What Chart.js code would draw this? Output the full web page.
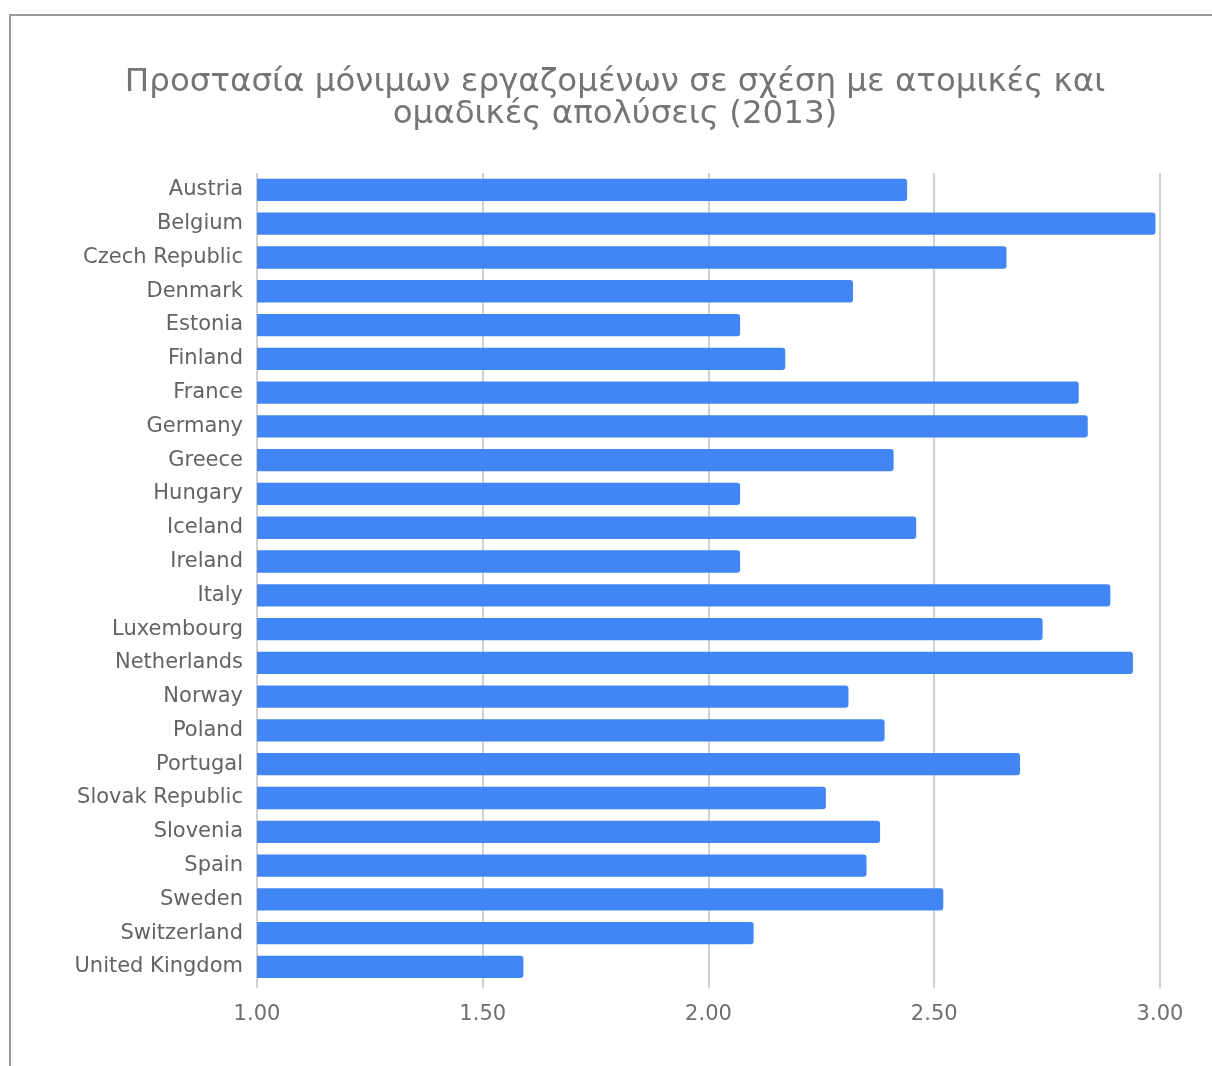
<!DOCTYPE html>
<html>
<head>
<meta charset="utf-8">
<script src="https://cdn.jsdelivr.net/npm/chart.js@4.4.1/dist/chart.umd.min.js"></script>
<style>
  html, body { margin: 0; padding: 0; background: #fff; overflow: hidden; }
  .frame {
    position: absolute; left: 9px; top: 14px; width: 1300px; height: 1200px;
    border-left: 2px solid #9a9a9a; border-top: 2px solid #9a9a9a;
  }
  #wrap { position: absolute; left: 0; top: 0; width: 1212px; height: 1066px; }
</style>
</head>
<body>
<div class="frame"></div>
<div id="wrap"><canvas id="chart"></canvas></div>
<script>
const countries = [
  'Austria', 'Belgium', 'Czech Republic', 'Denmark', 'Estonia', 'Finland',
  'France', 'Germany', 'Greece', 'Hungary', 'Iceland', 'Ireland', 'Italy',
  'Luxembourg', 'Netherlands', 'Norway', 'Poland', 'Portugal',
  'Slovak Republic', 'Slovenia', 'Spain', 'Sweden', 'Switzerland', 'United Kingdom'
];
const protection = [
  2.44, 2.99, 2.66, 2.32, 2.07, 2.17,
  2.82, 2.84, 2.41, 2.07, 2.46, 2.07, 2.89,
  2.74, 2.94, 2.31, 2.39, 2.69,
  2.26, 2.38, 2.35, 2.52, 2.10, 1.59
];
const titleLines = [
  'Προστασία μόνιμων εργαζομένων σε σχέση με ατομικές και',
  'ομαδικές απολύσεις (2013)'
];
const xMin = 1, xMax = 3, xStep = 0.5;

Chart.defaults.font.family = '"DejaVu Sans", sans-serif';

// center the title over the whole frame, not just the plot width
const wideTitle = {
  id: 'wideTitle',
  afterLayout(chart) {
    const t = chart.titleBlock;
    if (!t) return;
    t.left = 0;
    t.right = 1230;
    t.width = 1230;
  }
};

new Chart(document.getElementById('chart'), {
  type: 'bar',
  data: {
    labels: countries,
    datasets: [{
      data: protection,
      backgroundColor: '#4285f4',
      borderRadius: { topRight: 3, bottomRight: 3 },
      borderSkipped: 'start',
      barPercentage: 0.66,
      categoryPercentage: 1
    }]
  },
  options: {
    indexAxis: 'y',
    responsive: true,
    maintainAspectRatio: false,
    animation: false,
    layout: { padding: { left: 0, right: 52, top: 67, bottom: 25 } },
    plugins: {
      legend: { display: false },
      tooltip: { enabled: false },
      title: {
        display: true,
        text: titleLines,
        color: '#757575',
        font: { size: 32.5, weight: 'normal', lineHeight: 0.985 },
        padding: { top: 0, bottom: 42 }
      }
    },
    scales: {
      x: {
        min: xMin,
        max: xMax,
        ticks: {
          stepSize: xStep,
          color: '#6e6e6e',
          font: { size: 21 },
          padding: 14,
          callback: v => v.toFixed(2)
        },
        grid: { color: '#d0d0d0', lineWidth: 2, tickLength: 4 },
        border: { display: false }
      },
      y: {
        ticks: { color: '#636363', font: { size: 21 }, padding: 6 },
        grid: { display: false },
        border: { display: false },
        afterFit: scale => { scale.width = 257; }
      }
    }
  },
  plugins: [wideTitle]
});
</script>
</body>
</html>
